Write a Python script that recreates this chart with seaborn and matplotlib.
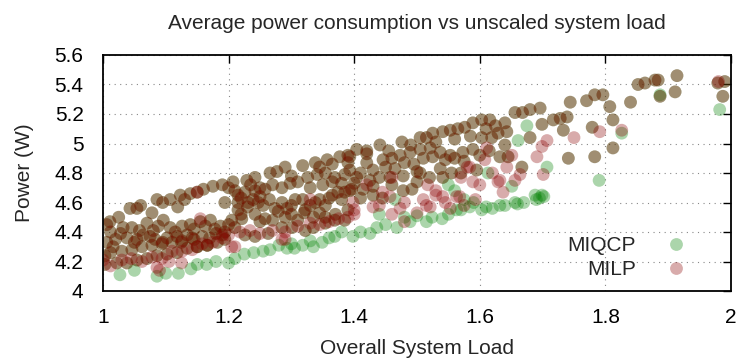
import numpy as np
import pandas as pd
import matplotlib
matplotlib.use("Agg")
import matplotlib.pyplot as plt
import seaborn as sns

# ---- data (Overall System Load, Power in W) ----
# points shared by both formulations
common_load = [
    1.011, 1.043, 1.054, 1.078, 1.086, 1.107, 1.119, 1.123, 1.139, 1.150, 1.175, 1.190,
    1.207, 1.229, 1.242, 1.266, 1.277, 1.318, 1.338, 1.357, 1.377, 1.390, 1.404, 1.420,
    1.441, 1.476, 1.505, 1.515, 1.525, 1.541, 1.553, 1.565, 1.576, 1.589, 1.603, 1.616,
    1.656, 1.668, 1.680, 1.696, 1.744, 1.770, 1.783, 1.796, 1.852, 1.863, 1.879, 1.884,
    1.914, 1.979, 1.990, 1.987, 1.911, 1.887, 1.840, 1.807, 1.812, 1.812,
    1.006, 1.032, 1.046, 1.070, 1.080, 1.096, 1.107, 1.126, 1.139, 1.155, 1.171, 1.187,
    1.210, 1.226, 1.242, 1.258, 1.298, 1.326, 1.341, 1.354, 1.369, 1.385, 1.393, 1.420,
    1.446, 1.460, 1.473, 1.489, 1.505, 1.521, 1.537, 1.553, 1.573, 1.589, 1.603, 1.619,
    1.629, 1.643, 1.640, 1.632, 1.645, 1.680, 1.699, 1.717, 1.728, 1.739, 1.733, 1.779,
    1.741, 1.783, 1.667,
    1.006, 1.016, 1.038, 1.054, 1.064, 1.083, 1.102, 1.118, 1.134, 1.150, 1.166, 1.182,
    1.194, 1.194, 1.215, 1.231, 1.239, 1.247, 1.274, 1.293, 1.306, 1.318, 1.322, 1.338,
    1.354, 1.365, 1.374, 1.385, 1.396, 1.393, 1.404, 1.425, 1.440, 1.457, 1.478, 1.500,
    1.537, 1.541, 1.393, 1.414, 1.430, 1.445, 1.478, 1.492,
    1.205, 1.221, 1.242, 1.258, 1.279, 1.300, 1.320, 1.354, 1.370,
    1.003, 1.022, 1.038, 1.054, 1.070, 1.086, 1.102, 1.118, 1.134, 1.150, 1.166, 1.194,
    1.210, 1.226, 1.242, 1.263, 1.285, 1.301, 1.322, 1.335, 1.354, 1.369, 1.385,
    1.003, 1.012, 1.030, 1.046, 1.062, 1.078, 1.094, 1.110, 1.126, 1.142, 1.158, 1.180,
    # denser areas
    1.025, 1.060, 1.095, 1.130, 1.160, 1.200, 1.215,
    1.012, 1.028, 1.058, 1.088, 1.115, 1.145, 1.163, 1.178, 1.200,
    1.020, 1.050, 1.075, 1.095, 1.125, 1.145, 1.170, 1.190,
    1.215, 1.230, 1.255, 1.265, 1.285, 1.300, 1.330, 1.345, 1.360, 1.380,
    1.235, 1.250, 1.270, 1.285, 1.310, 1.330, 1.350, 1.365, 1.380, 1.400,
    1.290, 1.300, 1.345, 1.365, 1.390, 1.220, 1.250, 1.270, 1.290, 1.310,
    1.335, 1.345, 1.390, 1.250, 1.220,
    1.410, 1.430, 1.450, 1.465, 1.480, 1.495, 1.510, 1.525, 1.545, 1.560,
    1.575, 1.600, 1.615, 1.420, 1.455, 1.490, 1.530, 1.560, 1.585, 1.610,
    1.625, 1.640, 1.410, 1.430, 1.460, 1.500, 1.520, 1.555, 1.570, 1.595,
]
common_power = [
    4.47, 4.56, 4.56, 4.53, 4.62, 4.62, 4.57, 4.65, 4.66, 4.67, 4.71, 4.72,
    4.74, 4.75, 4.77, 4.80, 4.81, 4.85, 4.87, 4.89, 4.91, 4.92, 4.96, 4.95,
    4.99, 5.01, 5.04, 5.04, 5.07, 5.08, 5.09, 5.10, 5.11, 5.14, 5.16, 5.16,
    5.21, 5.21, 5.23, 5.24, 5.28, 5.29, 5.33, 5.33, 5.40, 5.41, 5.43, 5.43,
    5.46, 5.41, 5.42, 5.32, 5.35, 5.32, 5.28, 5.25, 5.16, 4.97,
    4.45, 4.43, 4.43, 4.46, 4.41, 4.48, 4.43, 4.44, 4.45, 4.47, 4.48, 4.44,
    4.68, 4.67, 4.68, 4.69, 4.73, 4.77, 4.79, 4.80, 4.77, 4.79, 4.91, 4.87,
    4.89, 4.90, 4.92, 4.94, 4.96, 4.97, 4.94, 4.92, 4.94, 4.96, 5.04, 5.04,
    5.07, 5.08, 4.99, 4.91, 4.91, 5.04, 5.13, 5.16, 5.17, 5.18, 5.09, 5.11,
    4.90, 4.91, 4.84,
    4.33, 4.30, 4.36, 4.35, 4.38, 4.35, 4.36, 4.37, 4.38, 4.30, 4.31, 4.33,
    4.35, 4.60, 4.60, 4.60, 4.62, 4.60, 4.56, 4.56, 4.62, 4.62, 4.55, 4.60,
    4.58, 4.65, 4.67, 4.67, 4.69, 4.82, 4.77, 4.75, 4.77, 4.77, 4.78, 4.81,
    4.83, 4.77, 4.68, 4.69, 4.65, 4.63, 4.68, 4.69,
    4.48, 4.49, 4.52, 4.49, 4.54, 4.52, 4.53, 4.50, 4.52,
    4.18, 4.19, 4.19, 4.21, 4.22, 4.24, 4.25, 4.26, 4.29, 4.30, 4.31, 4.40,
    4.43, 4.38, 4.37, 4.39, 4.43, 4.43, 4.41, 4.43, 4.46, 4.48, 4.48,
    4.24, 4.26, 4.27, 4.28, 4.30, 4.31, 4.32, 4.33, 4.34, 4.36, 4.37, 4.39,
    4.50, 4.58, 4.60, 4.62, 4.69, 4.70, 4.65,
    4.40, 4.39, 4.41, 4.44, 4.40, 4.42, 4.44, 4.42, 4.45,
    4.35, 4.33, 4.37, 4.33, 4.33, 4.35, 4.36, 4.38,
    4.55, 4.57, 4.58, 4.62, 4.60, 4.58, 4.58, 4.62, 4.63, 4.62,
    4.72, 4.70, 4.72, 4.70, 4.74, 4.70, 4.72, 4.74, 4.73, 4.73,
    4.84, 4.78, 4.84, 4.86, 4.87, 4.52, 4.47, 4.48, 4.50, 4.48,
    4.50, 4.53, 4.55, 4.64, 4.63,
    4.80, 4.82, 4.84, 4.83, 4.87, 4.86, 4.90, 4.91, 4.89, 4.90,
    4.88, 4.92, 4.95, 4.93, 4.95, 4.99, 5.01, 5.03, 5.05, 5.10,
    5.12, 5.14, 4.63, 4.71, 4.72, 4.74, 4.77, 4.80, 4.80, 4.82,
]

# points where only MILP is visible (pink / red)
milp_only_load = [
    1.086, 1.105, 1.125, 1.155, 1.150, 1.205, 1.290, 1.330, 1.398, 1.420, 1.430, 1.457,
    1.473, 1.500, 1.521, 1.530, 1.541, 1.553, 1.563, 1.568, 1.570, 1.580, 1.584, 1.589,
    1.593, 1.460, 1.608, 1.611, 1.629, 1.632, 1.637, 1.643, 1.651, 1.656, 1.664, 1.691,
    1.699, 1.701, 1.707, 1.750, 1.791, 1.826, 1.980, 1.505, 1.517,
    # dark red lower band
    1.000, 1.012, 1.030, 1.045, 1.062, 1.078, 1.094, 1.110, 1.126, 1.142, 1.158, 1.175,
    1.190, 1.200, 1.218, 1.234, 1.250, 1.270, 1.290, 1.310, 1.330, 1.345, 1.360, 1.375,
    1.390, 1.400,
    1.440, 1.460, 1.480, 1.510, 1.515, 1.545, 1.575, 1.600, 1.620, 1.400, 1.445, 1.480,
    1.530, 1.090, 1.210, 1.285,
]
milp_only_power = [
    4.16, 4.20, 4.19, 4.49, 4.67, 4.30, 4.35, 4.62, 4.60, 4.72, 4.57, 4.64,
    4.56, 4.53, 4.57, 4.65, 4.64, 4.56, 4.64, 4.64, 4.77, 4.84, 4.84, 4.74,
    4.62, 4.77, 4.89, 4.97, 4.74, 4.75, 4.67, 4.84, 4.92, 4.75, 4.79, 4.91,
    4.98, 4.79, 5.02, 5.04, 5.08, 5.09, 5.42, 4.80, 4.72,
    4.21, 4.17, 4.21, 4.22, 4.20, 4.23, 4.22, 4.27, 4.27, 4.28, 4.32, 4.33,
    4.36, 4.38, 4.40, 4.41, 4.39, 4.41, 4.40, 4.44, 4.46, 4.45, 4.47, 4.49,
    4.50, 4.52,
    4.58, 4.52, 4.60, 4.62, 4.58, 4.60, 4.58, 4.72, 4.80, 4.55, 4.67, 4.47,
    4.68, 4.14, 4.30, 4.35,
]

# points where only MIQCP is visible (green)
miqcp_only_load = [
    1.027, 1.086, 1.100, 1.120, 1.165, 1.210, 1.240, 1.266, 1.293, 1.305, 1.318, 1.349,
    1.369, 1.398, 1.425, 1.436, 1.468, 1.489, 1.505, 1.524, 1.540, 1.560, 1.563, 1.575,
    1.584, 1.603, 1.613, 1.620, 1.632, 1.651, 1.656, 1.670, 1.688, 1.699, 1.702, 1.707,
    1.661, 1.675, 1.790, 1.826, 1.887, 1.982, 1.180, 1.200,
    1.410, 1.450, 1.480, 1.500, 1.515, 1.550, 1.570, 1.590, 1.610, 1.640, 1.660, 1.690,
    1.695, 1.550, 1.440, 1.465,
    1.225, 1.255, 1.280, 1.300, 1.330, 1.360, 1.380, 1.335, 1.140, 1.150, 1.050,
]
miqcp_only_power = [
    4.11, 4.10, 4.12, 4.12, 4.18, 4.22, 4.26, 4.28, 4.29, 4.29, 4.31, 4.33,
    4.37, 4.37, 4.39, 4.43, 4.43, 4.47, 4.80, 4.50, 4.49, 4.68, 4.55, 4.62,
    4.57, 4.55, 4.80, 4.56, 4.58, 4.71, 4.60, 4.60, 4.65, 4.65, 4.64, 4.84,
    5.02, 5.12, 4.75, 5.07, 5.33, 5.23, 4.20, 4.19,
    4.40, 4.45, 4.50, 4.51, 4.47, 4.52, 4.55, 4.60, 4.57, 4.58, 4.59, 4.62,
    4.63, 4.72, 4.52, 4.62,
    4.25, 4.27, 4.31, 4.32, 4.34, 4.36, 4.40, 4.30, 4.15, 4.18, 4.14,
]

series_names = ["MIQCP", "MILP"]
series_colors = ["#008000", "#8b0000"]
x_ticks = [1.0, 1.2, 1.4, 1.6, 1.8, 2.0]
y_ticks = [4.0, 4.2, 4.4, 4.6, 4.8, 5.0, 5.2, 5.4, 5.6]

# ---- build table ----
miqcp = pd.DataFrame({"load": common_load + miqcp_only_load,
                      "power": common_power + miqcp_only_power})
miqcp["method"] = "MIQCP"
milp = pd.DataFrame({"load": common_load + milp_only_load,
                     "power": common_power + milp_only_power})
milp["method"] = "MILP"
df = pd.concat([miqcp, milp], ignore_index=True)

sns.set_style("white")
plt.rcParams["font.family"] = ["Liberation Sans", "DejaVu Sans"]
FS = 15

fig = plt.figure(figsize=(7.37, 3.6), dpi=100)
ax = fig.add_axes([103 / 737, 1 - 291 / 360, 628 / 737, 236 / 360])

sns.scatterplot(data=df, x="load", y="power", hue="method",
                hue_order=series_names, palette=series_colors,
                s=85, alpha=0.33, edgecolor="none", linewidth=0, ax=ax, legend=True)

ax.set_xlim(1.0, 2.0)
ax.set_ylim(4.0, 5.6)
ax.set_xticks(x_ticks)
ax.set_yticks(y_ticks)
ax.set_xticklabels([f"{v:g}" for v in x_ticks])
ax.set_yticklabels([f"{v:g}" for v in y_ticks])
ax.tick_params(direction="in", length=6, width=1, top=True, right=True,
               labelsize=FS, colors="black")
ax.tick_params(axis="x", pad=12)
ax.tick_params(axis="y", pad=14)
ax.grid(True, linestyle=(0, (1, 4)), color="#888888", linewidth=0.8)
ax.set_axisbelow(True)
for sp in ax.spines.values():
    sp.set_color("black")
    sp.set_linewidth(1.3)

ax.set_xlabel("Overall System Load", fontsize=FS, labelpad=9)
ax.set_ylabel("Power (W)", fontsize=FS, labelpad=15)
ax.set_title("Average power consumption vs unscaled system load", fontsize=FS, pad=19)

handles, labels = ax.get_legend_handles_labels()
leg = ax.legend(handles, labels, loc="lower right", bbox_to_anchor=(0.975, -0.03),
                frameon=False, markerfirst=False, fontsize=FS, handletextpad=0.9,
                labelspacing=0.25, markerscale=1.0)
for t in leg.get_texts():
    t.set_ha("right")

fig.savefig("out.png", dpi=100)
